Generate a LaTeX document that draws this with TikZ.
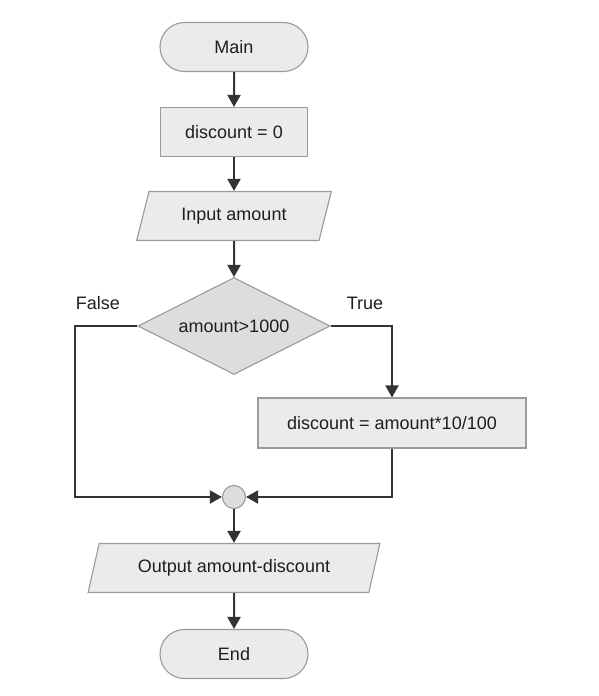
\documentclass[tikz,border=0pt]{standalone}
\usepackage{fontspec}
\setmainfont{Liberation Sans}
\usetikzlibrary{shapes.geometric,shapes.misc,arrows.meta}
\definecolor{boxfill}{HTML}{EBEBEB}
\definecolor{decfill}{HTML}{DDDDDD}
\definecolor{boxline}{HTML}{9A9A9A}
\definecolor{arrowc}{HTML}{333333}
\definecolor{txt}{HTML}{1E1E1E}
\begin{document}
\begin{tikzpicture}[x=1pt,y=-1pt,
  every node/.style={font=\fontsize{18}{20}\selectfont, text=txt},
  base/.style={draw=boxline, line width=1.1pt, fill=boxfill, inner sep=0pt},
  term/.style={base, rounded rectangle, minimum width=148pt, minimum height=49pt},
  proc/.style={base, rectangle, minimum height=49pt},
  io/.style={base, trapezium, trapezium left angle=64.8, trapezium right angle=115.2, trapezium stretches=true, minimum height=49pt},
  dec/.style={base, diamond, fill=decfill, minimum width=192pt, minimum height=97pt, aspect=2},
  junc/.style={base, circle, fill=decfill, minimum size=23pt},
  flow/.style={draw=arrowc, line width=2pt, -{Triangle[width=13pt,length=12pt]}},
  lbl/.style={inner sep=0pt}
]
\useasboundingbox (0,0) rectangle (598,696);
\node[term] (main) at (234,47) {Main};
\node[proc, minimum width=147pt] (init) at (234,132) {discount = 0};
\node[io, minimum width=195pt] (inp) at (234,216) {Input amount};
\node[dec] (cond) at (234,326) {};
\node at (234,326) {amount>1000};
\node[proc, minimum width=268pt, minimum height=50pt] (calc) at (392,423) {discount = amount*10/100};
\node[junc] (join) at (234,497) {};
\node[io, minimum width=292pt] (out) at (234,568) {Output amount-discount};
\node[term] (end) at (234,654) {End};
\node[lbl] (fl) at (98,303) {False};
\node[lbl] (tl) at (365,303) {True};
\coordinate (lc) at (75,326);
\coordinate (rc) at (392,326);
\draw[flow] (main) -- (init);
\draw[flow] (init) -- (inp);
\draw[flow] (inp) -- (cond);
\draw[flow] (cond.east) -- (rc) -- (calc.north);
\draw[flow] (cond.west) -- (lc) |- (join.west);
\draw[flow] (calc.south) |- (join.east);
\draw[flow] (join) -- (out);
\draw[flow] (out) -- (end);
\end{tikzpicture}
\end{document}
